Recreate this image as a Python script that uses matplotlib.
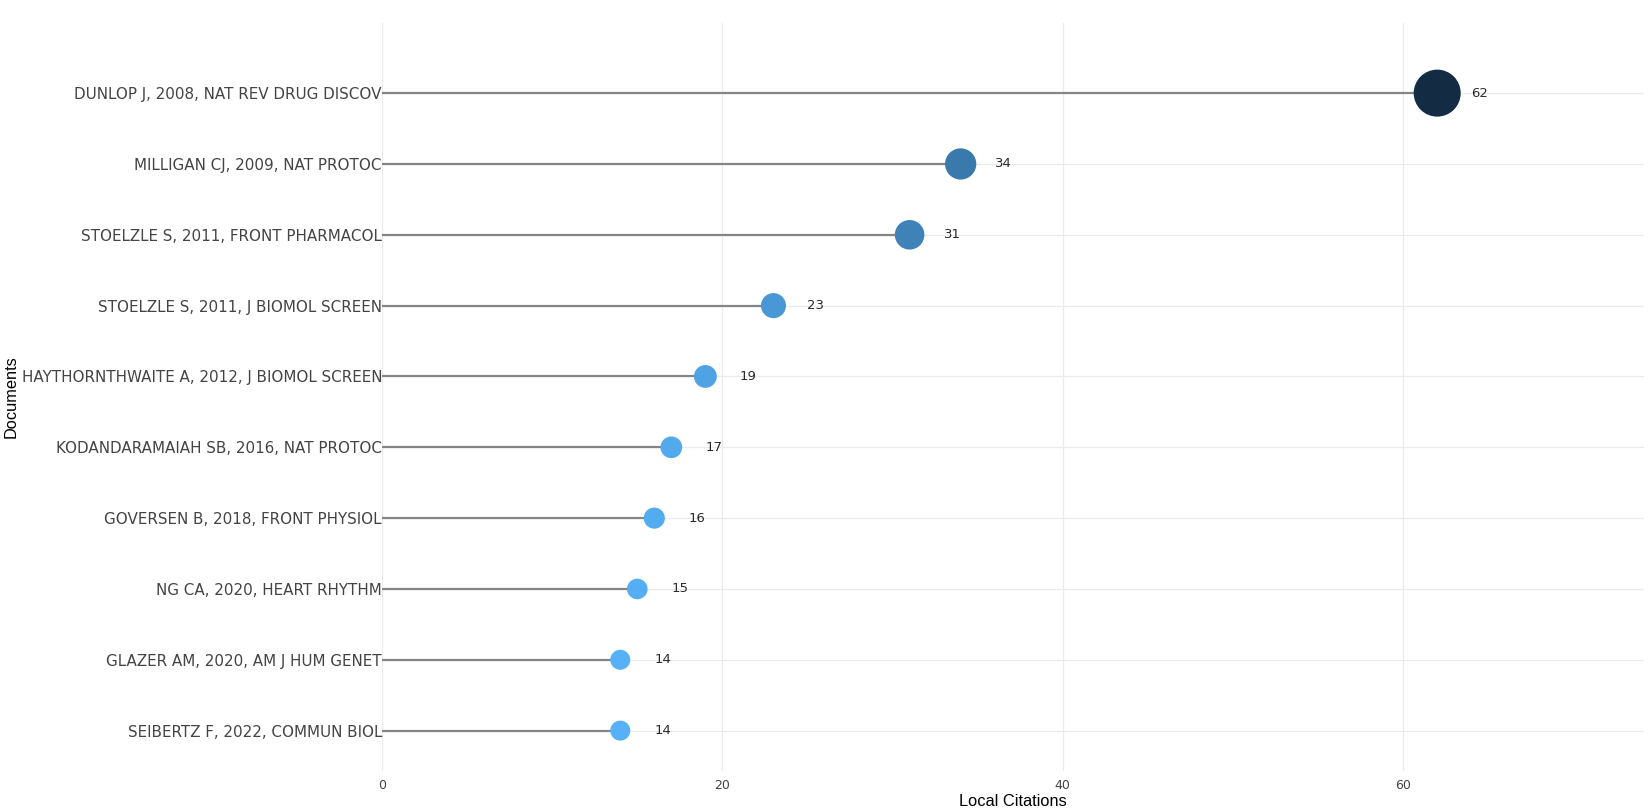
import matplotlib
matplotlib.use("Agg")
import matplotlib.pyplot as plt
import numpy as np
from matplotlib.colors import LinearSegmentedColormap, Normalize

documents = [
    "DUNLOP J, 2008, NAT REV DRUG DISCOV",
    "MILLIGAN CJ, 2009, NAT PROTOC",
    "STOELZLE S, 2011, FRONT PHARMACOL",
    "STOELZLE S, 2011, J BIOMOL SCREEN",
    "HAYTHORNTHWAITE A, 2012, J BIOMOL SCREEN",
    "KODANDARAMAIAH SB, 2016, NAT PROTOC",
    "GOVERSEN B, 2018, FRONT PHYSIOL",
    "NG CA, 2020, HEART RHYTHM",
    "GLAZER AM, 2020, AM J HUM GENET",
    "SEIBERTZ F, 2022, COMMUN BIOL",
]
citations = [62, 34, 31, 23, 19, 17, 16, 15, 14, 14]
x_ticks = [0, 20, 40, 60]

DPI = 100
fig = plt.figure(figsize=(16.5, 8.1), dpi=DPI)
W, H = 1650, 810
left, right, top, bottom = 382, 1644, 23, 771
ax = fig.add_axes([left / W, 1 - bottom / H, (right - left) / W, (bottom - top) / H])

n = len(documents)
ypos = np.arange(n)[::-1]
vals = np.array(citations, dtype=float)

cmap = LinearSegmentedColormap.from_list("gg", ["#56B1F7", "#132B43"])
norm = Normalize(vmin=vals.min(), vmax=vals.max())
colors = cmap(norm(vals))

# marker diameter in px mapped linearly from value
dmin, dmax = 20.0, 47.0
diam_px = dmin + (vals - vals.min()) / (vals.max() - vals.min()) * (dmax - dmin)
sizes = (diam_px * 72.0 / DPI) ** 2

ax.set_xlim(0, 74.15)
ax.set_ylim(-0.57, 9.99)

for xt in x_ticks:
    ax.axvline(xt, color="#ebebeb", lw=0.9, zorder=0)
for y in ypos:
    ax.axhline(y, color="#ebebeb", lw=0.9, zorder=0)

ax.hlines(ypos, 0, vals, color="#858585", lw=1.6, zorder=2)
ax.scatter(vals, ypos, s=sizes, c=colors, zorder=3, linewidths=0)

for v, y in zip(vals, ypos):
    ax.text(v + 2.0, y, f"{int(v)}", ha="left", va="center", fontsize=9.5,
            color="#2a2a2a", family="DejaVu Sans", zorder=4)

ax.set_yticks(ypos)
ax.set_yticklabels(documents, fontsize=10.9, color="#444444", family="DejaVu Sans")
ax.set_xticks(x_ticks)
ax.set_xticklabels([str(t) for t in x_ticks], fontsize=9, color="#444444", family="DejaVu Sans")
ax.tick_params(axis="both", length=0)
ax.tick_params(axis="y", pad=0)
ax.tick_params(axis="x", pad=6)
for s in ax.spines.values():
    s.set_visible(False)

fig.text((left + right) / 2 / W, 1 - 802 / H, "Local Citations", ha="center", va="center",
         fontsize=11.8, color="black", family=["Liberation Sans Narrow", "Liberation Sans", "DejaVu Sans"])
fig.text(11.5 / W, 1 - 397 / H, "Documents", ha="center", va="center", rotation=90,
         fontsize=11.8, color="black", family=["Liberation Sans Narrow", "Liberation Sans", "DejaVu Sans"])

fig.savefig("out.png", dpi=DPI)
